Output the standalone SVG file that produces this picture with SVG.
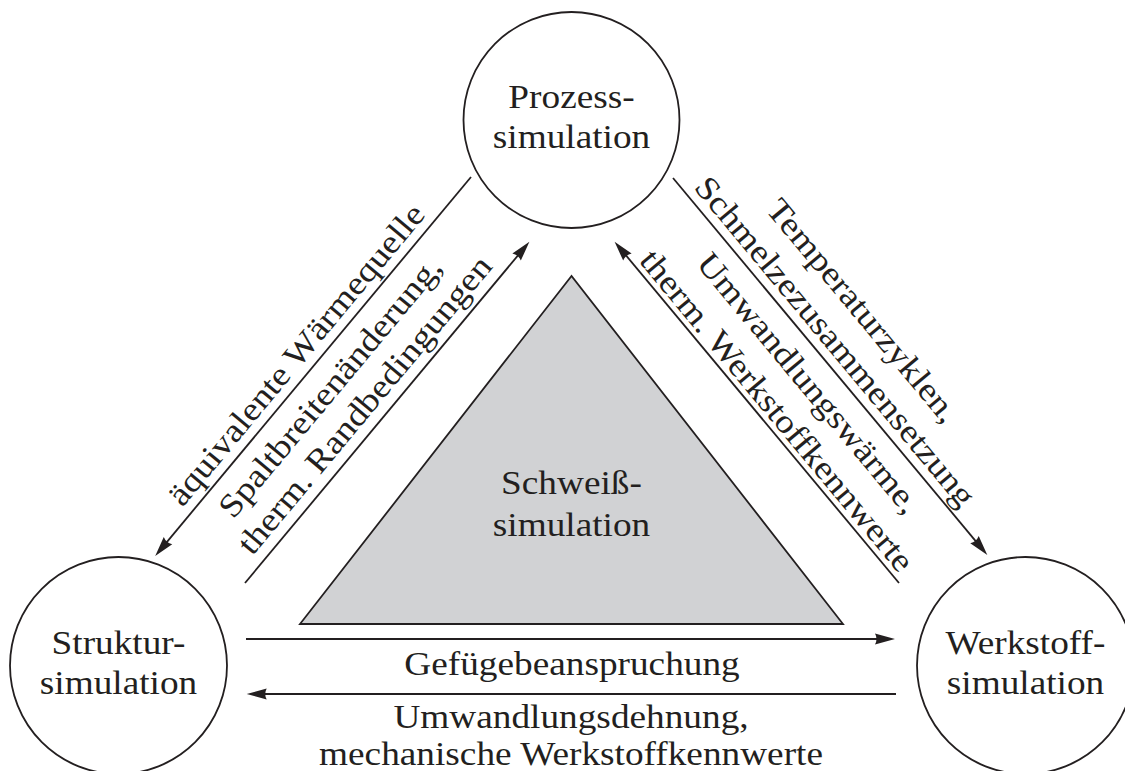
<svg xmlns="http://www.w3.org/2000/svg" width="1125" height="771" viewBox="0 0 1125 771">
  <style>
    .t { font-family: "Liberation Serif", "Times New Roman", serif; font-size: 33px; fill: #231f20; text-anchor: middle; }
    .node { fill: #ffffff; stroke: #231f20; stroke-width: 1.8; }
    .core { fill: #d1d2d4; stroke: #231f20; stroke-width: 1.8; }
    .edge { fill: none; stroke: #231f20; stroke-width: 1.8; }
  </style>
  <defs>
    <marker id="head" markerUnits="userSpaceOnUse" markerWidth="22" markerHeight="12" refX="10" refY="6" orient="auto" overflow="visible">
      <path d="M20,6 L0,0.5 Q3,6 0,11.5 Z" fill="#231f20"/>
    </marker>
  </defs>
  <rect width="1125" height="771" fill="#ffffff"/>

  <!-- central triangle -->
  <g id="schweiss">
    <polygon class="core" points="571.5,276 300,624 843,624"/>
    <text class="t" transform="translate(571.5,494) scale(1.13,1)">Schweiß-</text>
    <text class="t" transform="translate(571.5,536) scale(1.13,1)">simulation</text>
  </g>

  <!-- simulation nodes -->
  <g id="prozess">
    <circle class="node" cx="571.5" cy="120" r="108"/>
    <text class="t" transform="translate(571.5,108) scale(1.13,1)">Prozess-</text>
    <text class="t" transform="translate(571.5,148) scale(1.13,1)">simulation</text>
  </g>
  <g id="struktur">
    <circle class="node" cx="118.5" cy="665.5" r="108.5"/>
    <text class="t" transform="translate(118.5,653.5) scale(1.13,1)">Struktur-</text>
    <text class="t" transform="translate(118.5,693.5) scale(1.13,1)">simulation</text>
  </g>
  <g id="werkstoff">
    <circle class="node" cx="1025.5" cy="665.5" r="108.5"/>
    <text class="t" transform="translate(1025.5,653.5) scale(1.13,1)">Werkstoff-</text>
    <text class="t" transform="translate(1025.5,693.5) scale(1.13,1)">simulation</text>
  </g>

  <!-- connectors -->
  <g id="connectors">
    <line class="edge" x1="471" y1="177" x2="161.6" y2="548.3" marker-end="url(#head)"/>
    <line class="edge" x1="245" y1="583" x2="523" y2="249.4" marker-end="url(#head)"/>
    <line class="edge" x1="673" y1="178" x2="980.9" y2="547.3" marker-end="url(#head)"/>
    <line class="edge" x1="899" y1="583" x2="621" y2="249.4" marker-end="url(#head)"/>
    <line class="edge" x1="246" y1="639" x2="885" y2="639" marker-end="url(#head)"/>
    <line class="edge" x1="896" y1="694" x2="256.7" y2="694" marker-end="url(#head)"/>
  </g>

  <!-- connector labels -->
  <g id="labels">
    <text class="t" transform="translate(304.5,361.6) rotate(-50.19) scale(1.13,1)">äquivalente Wärmequelle</text>
    <text class="t" transform="translate(338.3,394) rotate(-50.19) scale(1.13,1)">Spaltbreitenänderung,</text>
    <text class="t" transform="translate(373,411.8) rotate(-50.19) scale(1.13,1)">therm. Randbedingungen</text>

    <text class="t" transform="translate(854.5,317.6) rotate(50.19) scale(1.13,1)">Temperaturzyklen,</text>
    <text class="t" transform="translate(826.9,348.4) rotate(50.19) scale(1.13,1)">Schmelzezusammensetzung</text>
    <text class="t" transform="translate(800.4,390) rotate(50.19) scale(1.13,1)">Umwandlungswärme,</text>
    <text class="t" transform="translate(768.7,417.7) rotate(50.19) scale(1.13,1)">therm. Werkstoffkennwerte</text>

    <text class="t" transform="translate(572,675) scale(1.13,1)">Gefügebeanspruchung</text>
    <text class="t" transform="translate(571,728) scale(1.13,1)">Umwandlungsdehnung,</text>
    <text class="t" transform="translate(571,765) scale(1.13,1)">mechanische Werkstoffkennwerte</text>
  </g>
</svg>
